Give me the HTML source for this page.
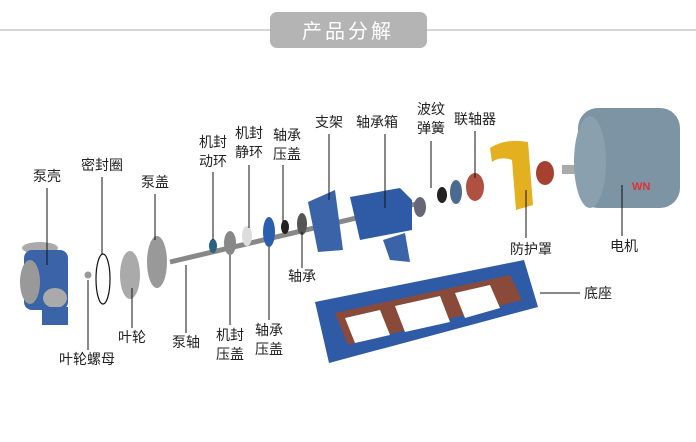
<!DOCTYPE html>
<html><head><meta charset="utf-8"><style>
body{margin:0;background:#fff;width:696px;height:442px;overflow:hidden;position:relative;font-family:"Liberation Sans","Noto Sans CJK SC",sans-serif}
.t{position:absolute;font-size:14px;color:#222;line-height:19px;text-align:center;white-space:nowrap;transform:translateX(-50%)}
</style></head><body>
<svg width="696" height="442" style="position:absolute;left:0;top:0">
<line x1="0" y1="30" x2="696" y2="30" stroke="#c8c8c8" stroke-width="1.5"/>
<rect x="270" y="12" width="157" height="36" rx="7" fill="#b4b4b4"/>
<text x="348" y="38" font-size="20" fill="#fff" text-anchor="middle" font-family="Liberation Sans,Noto Sans CJK SC,sans-serif" letter-spacing="3">产品分解</text>
<line x1="170" y1="262" x2="420" y2="203" stroke="#888" stroke-width="5"/>
<ellipse cx="40" cy="248" rx="18" ry="6" fill="#aaa"/>
<rect x="24" y="250" width="44" height="60" rx="8" fill="#3a63a8"/>
<ellipse cx="30" cy="282" rx="10" ry="22" fill="#999"/>
<ellipse cx="55" cy="298" rx="12" ry="10" fill="#aaa"/>
<rect x="42" y="307" width="26" height="18" fill="#3a63a8"/>
<circle cx="88" cy="275" r="3.5" fill="#999"/>
<ellipse cx="103" cy="279" rx="7" ry="25" fill="none" stroke="#111" stroke-width="1.2"/>
<ellipse cx="130" cy="275" rx="10" ry="24" fill="#aaa"/>
<ellipse cx="157" cy="262" rx="10" ry="26" fill="#999"/>
<ellipse cx="213" cy="246" rx="4" ry="7" fill="#2a6080"/>
<ellipse cx="230" cy="243" rx="6" ry="12" fill="#888"/>
<ellipse cx="247" cy="236" rx="5" ry="10" fill="#ddd"/>
<ellipse cx="269" cy="232" rx="6" ry="15" fill="#2a5fb0"/>
<ellipse cx="285" cy="227" rx="4" ry="7" fill="#222"/>
<ellipse cx="302" cy="224" rx="5" ry="11" fill="#555"/>
<polygon points="308,202 335,190 343,250 318,252" fill="#3a63a8"/>
<polygon points="350,197 400,188 412,200 412,230 360,240" fill="#2e5aa6"/>
<polygon points="383,240 405,233 410,262 390,260" fill="#3a63a8"/>
<ellipse cx="420" cy="207" rx="6" ry="10" fill="#667"/>
<ellipse cx="442" cy="195" rx="5" ry="8" fill="#222"/>
<ellipse cx="456" cy="192" rx="6" ry="12" fill="#4a6a90"/>
<ellipse cx="475" cy="187" rx="9" ry="14" fill="#b05040"/>
<path d="M490,148 Q505,138 528,142 L533,205 L516,210 L512,160 Q500,156 492,162 Z" fill="#e3b020"/>
<ellipse cx="545" cy="173" rx="9" ry="12" fill="#a84030"/>
<rect x="562" y="165" width="22" height="9" fill="#aaa"/>
<rect x="578" y="108" width="102" height="100" rx="20" fill="#7c94a4"/>
<ellipse cx="590" cy="162" rx="16" ry="46" fill="#8aa0ae"/>
<text x="632" y="190" font-size="11" fill="#d33" font-weight="bold" font-family="Liberation Sans,sans-serif">WN</text>
<polygon points="315,302 524,260 538,307 329,363" fill="#2e5aa6"/>
<polygon points="335,313 510,275 522,300 348,345" fill="#8a4a3a"/>
<polygon points="345,318 380,310 390,335 355,343" fill="#fff"/>
<polygon points="395,306 440,296 450,322 405,332" fill="#fff"/>
<polygon points="455,293 490,285 500,308 465,318" fill="#fff"/>
<g stroke="#111" stroke-width="1">
<line x1="47" y1="188" x2="47" y2="265"/>
<line x1="102" y1="177" x2="102" y2="254"/>
<line x1="155" y1="194" x2="155" y2="240"/>
<line x1="213" y1="172" x2="213" y2="240"/>
<line x1="249" y1="165" x2="249" y2="228"/>
<line x1="283" y1="165" x2="283" y2="222"/>
<line x1="329" y1="134" x2="329" y2="200"/>
<line x1="385" y1="134" x2="385" y2="208"/>
<line x1="431" y1="141" x2="431" y2="188"/>
<line x1="475" y1="131" x2="475" y2="178"/>
<line x1="526" y1="190" x2="526" y2="238"/>
<line x1="622" y1="185" x2="622" y2="236"/>
<line x1="540" y1="293" x2="580" y2="293"/>
<line x1="302" y1="232" x2="302" y2="268"/>
<line x1="132" y1="288" x2="132" y2="328"/>
<line x1="186" y1="265" x2="186" y2="333"/>
<line x1="230" y1="255" x2="230" y2="325"/>
<line x1="269" y1="247" x2="269" y2="320"/>
<line x1="88" y1="280" x2="88" y2="350"/>
</g>
</svg>
<div class="t" style="left:47px;top:167px">泵壳</div>
<div class="t" style="left:102px;top:156px">密封圈</div>
<div class="t" style="left:155px;top:173px">泵盖</div>
<div class="t" style="left:213px;top:133px">机封<br>动环</div>
<div class="t" style="left:249px;top:124px">机封<br>静环</div>
<div class="t" style="left:287px;top:126px">轴承<br>压盖</div>
<div class="t" style="left:329px;top:113px">支架</div>
<div class="t" style="left:377px;top:113px">轴承箱</div>
<div class="t" style="left:431px;top:100px">波纹<br>弹簧</div>
<div class="t" style="left:475px;top:110px">联轴器</div>
<div class="t" style="left:531px;top:240px">防护罩</div>
<div class="t" style="left:624px;top:237px">电机</div>
<div class="t" style="left:598px;top:284px">底座</div>
<div class="t" style="left:302px;top:267px">轴承</div>
<div class="t" style="left:132px;top:328px">叶轮</div>
<div class="t" style="left:186px;top:333px">泵轴</div>
<div class="t" style="left:230px;top:326px">机封<br>压盖</div>
<div class="t" style="left:269px;top:321px">轴承<br>压盖</div>
<div class="t" style="left:87px;top:350px">叶轮螺母</div>
</body></html>
